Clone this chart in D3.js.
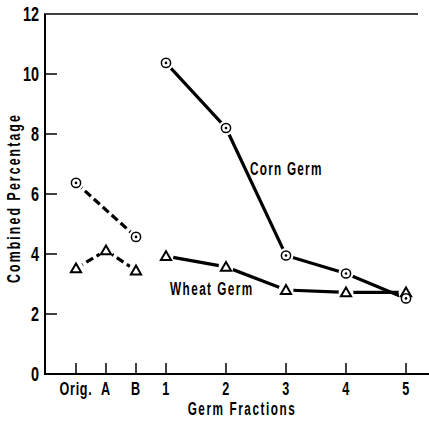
<html>
  <head>
    <style>
      body { margin: 0; background: #fff; }
      text { font-family: "Liberation Sans", Arial, sans-serif; font-weight: bold; fill: #000; }
    </style>
  </head>
  <body>
    <svg></svg>
    <script src="https://d3js.org/d3.v7.min.js"></script>
    <script>
      let width = 429,
        height = 421;

      // x positions: Orig., A, B sit between 0 and 1 on the fraction scale
      let xTickVals = [-0.5, 0, 0.5, 1, 2, 3, 4, 5];
      let xTickLabels = ["Orig.", "A", "B", "1", "2", "3", "4", "5"];
      let yTicks = [0, 2, 4, 6, 8, 10, 12];

      let cornDashed = [[-0.5, 6.37], [0.5, 4.57]];
      let wheatDashed = [[-0.5, 3.52], [0, 4.12], [0.5, 3.45]];
      let cornSolid = [[1, 10.37], [2, 8.2], [3, 3.95], [4, 3.35], [5, 2.52]];
      let wheatSolid = [[1, 3.93], [2, 3.57], [3, 2.8], [4, 2.72], [5, 2.72]];

      let svg = d3.select("svg").attr("width", width).attr("height", height);

      let x = d3.scaleLinear().domain([1, 5]).range([166, 406]);
      let y = d3.scaleLinear().domain([0, 12]).range([374, 14]);

      // condensed look: squeeze text horizontally
      function label(tx, ty, str, size, anchor, sx, rot) {
        return svg.append("text")
          .attr("transform", "translate(" + tx + "," + ty + ")" + (rot ? " rotate(-90)" : "") + " scale(" + sx + ",1)")
          .attr("text-anchor", anchor || "start")
          .attr("font-size", size)
          .text(str);
      }

      // frame: left axis, top line, bottom axis
      svg.append("line").attr("x1", 45).attr("x2", 45).attr("y1", 14).attr("y2", 375)
        .attr("stroke", "#000").attr("stroke-width", 2);
      svg.append("line").attr("x1", 44).attr("x2", 418).attr("y1", 14).attr("y2", 14)
        .attr("stroke", "#000").attr("stroke-width", 1.5);
      svg.append("line").attr("x1", 44).attr("x2", 429).attr("y1", 374).attr("y2", 374)
        .attr("stroke", "#000").attr("stroke-width", 2);

      // y ticks
      svg.append("g").selectAll("line").data(yTicks.filter((d) => d > 0 && d < 12)).enter().append("line")
        .attr("x1", 45).attr("x2", 57)
        .attr("y1", (d) => y(d)).attr("y2", (d) => y(d))
        .attr("stroke", "#000").attr("stroke-width", 1.5);
      yTicks.forEach((d) => label(39, y(d) + 7, d, 20, "end", 0.72));

      // x ticks
      svg.append("g").selectAll("line").data(xTickVals).enter().append("line")
        .attr("x1", (d) => x(d)).attr("x2", (d) => x(d))
        .attr("y1", 374).attr("y2", 363)
        .attr("stroke", "#000").attr("stroke-width", 1.5);
      xTickVals.forEach((d, i) => label(x(d), 395, xTickLabels[i], 18, "middle", 0.7).attr("letter-spacing", 1));

      label(242, 415, "Germ Fractions", 19, "middle", 0.62).attr("letter-spacing", 2.5);
      label(20, 198, "Combined Percentage", 19, "middle", 0.65, true).attr("letter-spacing", 3.2);

      let line = d3.line().x((d) => x(d[0])).y((d) => y(d[1]));

      function drawLine(data, dashed) {
        svg.append("path").datum(data).attr("d", line)
          .attr("fill", "none").attr("stroke", "#000").attr("stroke-width", 3.2)
          .attr("stroke-dasharray", dashed ? "8,4" : null);
      }
      drawLine(cornDashed, true);
      drawLine(wheatDashed, true);
      drawLine(cornSolid, false);
      drawLine(wheatSolid, false);

      // white halos so lines stop short of the markers
      let all = cornDashed.concat(wheatDashed, cornSolid, wheatSolid);
      svg.append("g").selectAll("circle").data(all).enter().append("circle")
        .attr("cx", (d) => x(d[0])).attr("cy", (d) => y(d[1]))
        .attr("r", 7.5).attr("fill", "#fff");

      let tri = d3.symbol().type(d3.symbolTriangle).size(45);
      function drawTriangles(data) {
        svg.append("g").selectAll("path").data(data).enter().append("path")
          .attr("d", tri)
          .attr("transform", (d) => "translate(" + x(d[0]) + "," + (y(d[1]) + 1) + ")")
          .attr("fill", "#fff").attr("stroke", "#000").attr("stroke-width", 2);
      }
      function drawCircles(data) {
        let g = svg.append("g").selectAll("g").data(data).enter().append("g")
          .attr("transform", (d) => "translate(" + x(d[0]) + "," + y(d[1]) + ")");
        g.append("circle").attr("r", 4.6).attr("fill", "#fff").attr("stroke", "#000").attr("stroke-width", 1.5);
        g.append("circle").attr("r", 1.3).attr("fill", "#000");
      }
      drawTriangles(wheatDashed);
      drawTriangles(wheatSolid);
      drawCircles(cornDashed);
      drawCircles(cornSolid);

      label(250, 175, "Corn Germ", 19, "start", 0.62).attr("letter-spacing", 2);
      label(170, 295, "Wheat Germ", 19, "start", 0.62).attr("letter-spacing", 2.3);
    </script>
  </body>
</html>
